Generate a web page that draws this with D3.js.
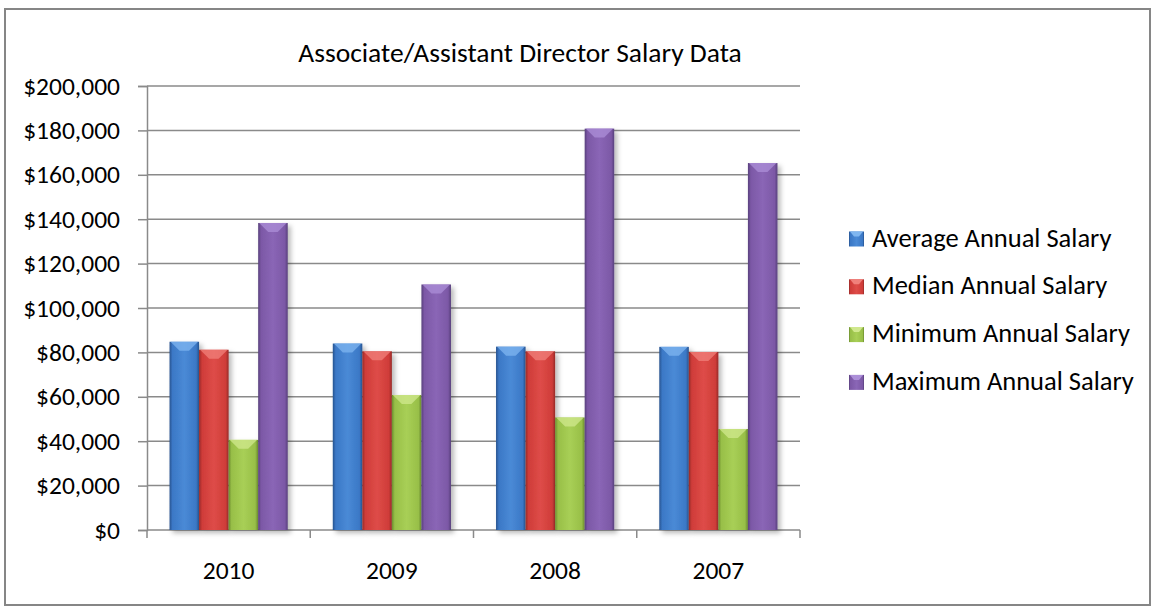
<!DOCTYPE html>
<html>
<head>
<meta charset="utf-8">
<script src="https://cdn.jsdelivr.net/npm/d3@7"></script>
<style>
  body { margin: 0; background: #fff; }
  text { font-family: Calibri, Carlito, Lato, sans-serif; fill: #000; }
</style>
</head>
<body>
<div id="chart"></div>
<script>
/* Associate/Assistant Director salary data, clustered bars */

const categories = ["2010", "2009", "2008", "2007"];
const seriesNames = ["Average Annual Salary", "Median Annual Salary",
                     "Minimum Annual Salary", "Maximum Annual Salary"];
const average = [84800, 84000, 82600, 82500];
const median  = [81200, 80500, 80500, 80200];
const minimum = [40600, 60800, 50700, 45500];
const maximum = [138300, 110600, 180800, 165300];
const yTicks = [0, 20000, 40000, 60000, 80000, 100000, 120000, 140000, 160000, 180000, 200000];

const seriesValues = [average, median, minimum, maximum];

const width = 1154,
      height = 610,
      margin = ({ top: 86, right: 354, bottom: 81, left: 147 });

// base, dark edge, light centre, bevel top
const palette = [
    { base: "#3b78c6", edge: "#27538f", light: "#4a8ad6", top: "#7fb6f0" },
    { base: "#cf3c39", edge: "#962a28", light: "#de4c48", top: "#f0807b" },
    { base: "#98bf48", edge: "#6b8c2e", light: "#a8cf56", top: "#d0e88e" },
    { base: "#7c58a6", edge: "#58407c", light: "#8a66b6", top: "#ac8fd8" }
];

let svg = d3.select("#chart")
    .append("svg")
    .attr("width", width)
    .attr("height", height);

let defs = svg.append("defs");

palette.forEach((c, i) => {
    let g = defs.append("linearGradient")
        .attr("id", "grad" + i)
        .attr("x1", "0%").attr("x2", "100%")
        .attr("y1", "0%").attr("y2", "0%");
    g.append("stop").attr("offset", "0%").attr("stop-color", c.edge);
    g.append("stop").attr("offset", "10%").attr("stop-color", c.base);
    g.append("stop").attr("offset", "50%").attr("stop-color", c.light);
    g.append("stop").attr("offset", "90%").attr("stop-color", c.base);
    g.append("stop").attr("offset", "100%").attr("stop-color", c.edge);
});

let shadow = defs.append("filter")
    .attr("id", "shadow")
    .attr("x", "-20%").attr("y", "-5%")
    .attr("width", "150%").attr("height", "115%");
shadow.append("feDropShadow")
    .attr("dx", 3).attr("dy", 3)
    .attr("stdDeviation", 2.5)
    .attr("flood-color", "#000")
    .attr("flood-opacity", 0.28);

// outer chart frame
svg.append("rect")
    .attr("x", 5).attr("y", 9)
    .attr("width", 1145).attr("height", 596)
    .attr("fill", "none")
    .attr("stroke", "#868686")
    .attr("stroke-width", 2);

let x0 = d3.scaleBand()
    .domain(categories)
    .range([margin.left, width - margin.right])
    .paddingInner(0.276)
    .paddingOuter(0.138);

let x1 = d3.scaleBand()
    .domain(d3.range(seriesNames.length))
    .range([0, x0.bandwidth()]);

let y = d3.scaleLinear()
    .domain([0, 200000])
    .range([height - margin.bottom + 1, margin.top]);

// gridlines
svg.append("g")
    .selectAll("line")
    .data(yTicks.slice(1))
    .join("line")
    .attr("x1", margin.left)
    .attr("x2", width - margin.right)
    .attr("y1", d => y(d))
    .attr("y2", d => y(d))
    .attr("stroke", "#8a8a8a")
    .attr("stroke-width", 1.5);

// y axis
let yAxis = svg.append("g")
    .attr("transform", `translate(${margin.left},0)`)
    .call(d3.axisLeft(y)
        .tickValues(yTicks)
        .tickFormat(d3.format("$,"))
        .tickSize(9)
        .tickPadding(18));
yAxis.select(".domain").attr("stroke", "#8a8a8a").attr("stroke-width", 1.5);
yAxis.selectAll(".tick line").attr("stroke", "#8a8a8a").attr("stroke-width", 1.5);
yAxis.selectAll(".tick text")
    .style("font-size", "25.5px")
    .attr("fill", "#000");

// x axis: line, boundary ticks, labels
let step = x0.step();
let bounds = categories.map(c => x0(c) - step * x0.paddingInner() / 2)
    .concat([x0(categories[categories.length - 1]) + x0.bandwidth() + step * x0.paddingInner() / 2]);

let xAxis = svg.append("g");
xAxis.append("line")
    .attr("x1", margin.left).attr("x2", width - margin.right)
    .attr("y1", y(0)).attr("y2", y(0))
    .attr("stroke", "#8a8a8a").attr("stroke-width", 1.5);
xAxis.selectAll(".xtick")
    .data(bounds)
    .join("line")
    .attr("class", "xtick")
    .attr("x1", d => d).attr("x2", d => d)
    .attr("y1", y(0)).attr("y2", y(0) + 8)
    .attr("stroke", "#8a8a8a").attr("stroke-width", 1.5);
xAxis.selectAll(".xlabel")
    .data(categories)
    .join("text")
    .attr("class", "xlabel")
    .attr("x", d => x0(d) + x0.bandwidth() / 2)
    .attr("y", y(0) + 49)
    .attr("text-anchor", "middle")
    .style("font-size", "25.5px")
    .text(d => d);

// bars
let rows = [];
categories.forEach((c, ci) => {
    seriesValues.forEach((vals, si) => rows.push({ cat: c, s: si, v: vals[ci] }));
});

let bar = svg.selectAll(".bar")
    .data(rows)
    .join("g")
    .attr("class", "bar")
    .attr("filter", "url(#shadow)");

bar.append("rect")
    .attr("x", d => x0(d.cat) + x1(d.s))
    .attr("y", d => y(d.v))
    .attr("width", x1.bandwidth())
    .attr("height", d => y(0) - y(d.v))
    .attr("fill", d => `url(#grad${d.s})`);

// bevel on top of each bar
bar.append("polygon")
    .attr("points", d => {
        let bx = x0(d.cat) + x1(d.s), bw = x1.bandwidth(), by = y(d.v);
        return [[bx + 1, by], [bx + bw - 1, by],
                [bx + bw * 0.66, by + 9], [bx + bw * 0.34, by + 9]].join(" ");
    })
    .attr("fill", d => palette[d.s].top)
    .attr("opacity", 0.75);

// legend
let legend = svg.append("g")
    .selectAll("g")
    .data(seriesNames)
    .join("g")
    .attr("transform", (d, i) => `translate(849,${246.5 + i * 47.8})`);

legend.append("rect")
    .attr("x", 0).attr("y", -15)
    .attr("width", 15).attr("height", 15)
    .attr("fill", (d, i) => `url(#grad${i})`);

legend.append("polygon")
    .attr("points", "1,-15 14,-15 10,-10 5,-10")
    .attr("fill", (d, i) => palette[i].top);

legend.append("text")
    .attr("x", 23)
    .attr("y", 0)
    .style("font-size", "26.5px")
    .text(d => d);

// title
svg.append("text")
    .attr("x", 520)
    .attr("y", 62)
    .attr("text-anchor", "middle")
    .style("font-size", "27.5px")
    .text("Associate/Assistant Director Salary Data");
</script>
</body>
</html>
